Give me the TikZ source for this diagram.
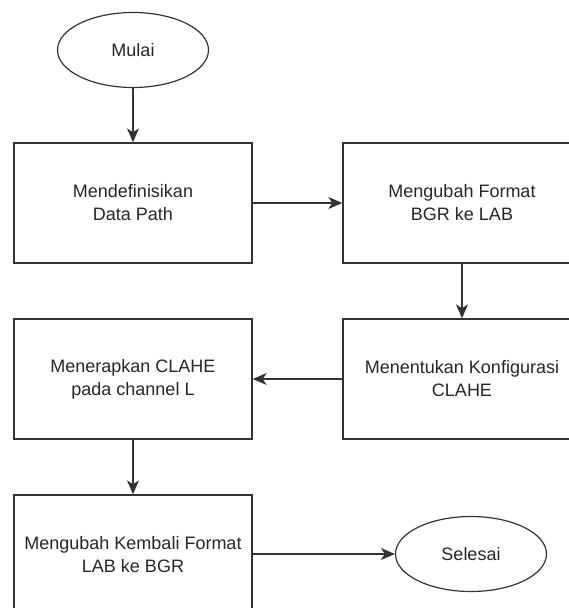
\documentclass[tikz,border=0pt]{standalone}
\usepackage{fontspec}
\setmainfont{Liberation Sans}
\usetikzlibrary{arrows.meta}
\begin{document}
\begin{tikzpicture}[x=1pt,y=-1pt,
  every node/.style={font=\fontsize{18}{23}\selectfont, text=black!85, align=center},
  procbox/.style={draw=black!80, line width=1.4pt, minimum width=238pt, minimum height=120pt, inner sep=0pt},
  term/.style={draw=black!80, line width=1.2pt, ellipse, minimum width=151pt, minimum height=75pt, inner sep=0pt},
  flow/.style={draw=black!80, line width=1.4pt, -{Stealth[length=14pt,width=12pt,inset=4pt]}}
]
\usetikzlibrary{shapes.geometric}
\useasboundingbox (0,0) rectangle (569,608);
\node[term] (mulai) at (133,50) {Mulai};
\node[procbox] (b1) at (133,203) {Mendefinisikan\\Data Path};
\node[procbox] (b2) at (462,203) {Mengubah Format\\BGR ke LAB};
\node[procbox] (b3) at (462,379) {Menentukan Konfigurasi\\CLAHE};
\node[procbox] (b4) at (133,379) {Menerapkan CLAHE\\pada channel L};
\node[procbox] (b5) at (133,555) {Mengubah Kembali Format\\LAB ke BGR};
\node[term] (selesai) at (471,554) {Selesai};
\draw[flow] (mulai) -- (b1);
\draw[flow] (b1) -- (b2);
\draw[flow] (b2) -- (b3);
\draw[flow] (b3) -- (b4);
\draw[flow] (b4) -- (b5);
\draw[flow] (b5.east |- selesai) -- (selesai);
\end{tikzpicture}
\end{document}
